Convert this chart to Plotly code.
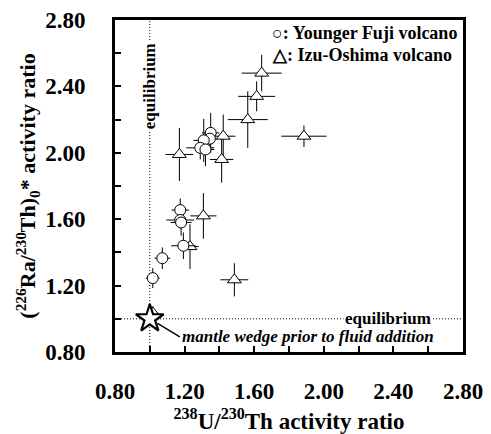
import plotly.graph_objects as go

# Younger Fuji volcano (circles)
fuji_x = [1.35, 1.345, 1.31, 1.29, 1.32, 1.175, 1.175, 1.18, 1.193, 1.072, 1.017]
fuji_y = [2.12, 2.085, 2.075, 2.03, 2.02, 1.655, 1.595, 1.58, 1.44, 1.365, 1.245]
fuji_xerr = [0.05, 0.04, 0.06, 0.08, 0.05, 0.05, 0.08, 0.06, 0.07, 0.045, 0.04]
fuji_yerr = [0.12, 0.06, 0.13, 0.07, 0.10, 0.07, 0.05, 0.08, 0.08, 0.065, 0.06]

# Izu-Oshima volcano (triangles)
izu_x = [1.643, 1.614, 1.563, 1.422, 1.413, 1.170, 1.886, 1.308, 1.231, 1.486, 1.018]
izu_y = [2.48, 2.34, 2.20, 2.10, 1.96, 1.99, 2.10, 1.62, 1.435, 1.235, 1.035]
izu_xerr = [0.115, 0.106, 0.115, 0.07, 0.067, 0.08, 0.13, 0.075, 0.05, 0.08, 0.03]
izu_yerr = [0.11, 0.09, 0.17, 0.13, 0.14, 0.16, 0.065, 0.137, 0.135, 0.10, 0.04]

# mantle wedge reference
mw_x = [1.0]
mw_y = [1.0]

tick_vals = [0.8, 1.2, 1.6, 2.0, 2.4, 2.8]
tick_text = ["0.80", "1.20", "1.60", "2.00", "2.40", "2.80"]

FONT = "Liberation Serif"

fig = go.Figure()

err_style = dict(type="data", color="black", thickness=1, width=0)

fig.add_trace(go.Scatter(
    x=izu_x, y=izu_y, mode="markers",
    error_x=dict(array=izu_xerr, **err_style),
    error_y=dict(array=izu_yerr, **err_style),
    marker=dict(symbol="triangle-up", size=12, color="white",
                line=dict(color="black", width=1)),
    showlegend=False))

fig.add_trace(go.Scatter(
    x=fuji_x, y=fuji_y, mode="markers",
    error_x=dict(array=fuji_xerr, **err_style),
    error_y=dict(array=fuji_yerr, **err_style),
    marker=dict(symbol="circle", size=11, color="white",
                line=dict(color="black", width=1)),
    showlegend=False))

fig.add_trace(go.Scatter(
    x=mw_x, y=mw_y, mode="markers",
    marker=dict(symbol="star", size=21, color="white",
                line=dict(color="black", width=2.2)),
    showlegend=False))

dotted = dict(color="black", width=1, dash="1px,2px")
fig.add_vline(x=1.0, line=dotted, layer="below")
fig.add_hline(y=1.0, line=dotted, layer="below")

bold = dict(family=FONT, color="black", weight="bold")

fig.add_annotation(x=2.37, y=1.0, text="equilibrium", showarrow=False,
                   bgcolor="white", font=dict(size=17, **bold), borderpad=1)
fig.add_annotation(x=1.0, y=2.40, text="equilibrium", showarrow=False,
                   textangle=-90, bgcolor="white", font=dict(size=17, **bold), borderpad=1)

fig.add_annotation(x=1.0, y=1.0, text="mantle wedge prior to fluid addition",
                   showarrow=True, arrowhead=0, arrowwidth=1.5, arrowcolor="black",
                   ax=30, ay=18, standoff=9, xanchor="left", yanchor="middle",
                   font=dict(size=17, style="italic", **bold))

fig.add_annotation(xref="paper", yref="paper", x=0.445, y=0.961,
                   text="○: Younger Fuji volcano", showarrow=False,
                   xanchor="left", yanchor="middle", font=dict(size=18, **bold))
fig.add_annotation(xref="paper", yref="paper", x=0.445, y=0.895,
                   text="△: Izu-Oshima volcano", showarrow=False,
                   xanchor="left", yanchor="middle", font=dict(size=18, **bold))

axis_common = dict(
    range=[0.8, 2.8], tickvals=tick_vals, ticktext=tick_text,
    ticks="inside", ticklen=6, tickwidth=2, tickcolor="black",
    minor=dict(ticks="inside", tick0=0.8, dtick=0.2, ticklen=6, tickwidth=2,
               tickcolor="black", showgrid=False),
    showline=True, linewidth=3, linecolor="black", mirror=True,
    showgrid=False, zeroline=False, automargin=False,
    tickfont=dict(size=23, **bold),
)

fig.update_xaxes(**axis_common, ticklabelstandoff=16,
                 title=dict(text="<sup>238</sup>U/<sup>230</sup>Th activity ratio",
                            font=dict(size=23, **bold), standoff=14))
fig.update_yaxes(**axis_common, ticklabelstandoff=22,
                 title=dict(text="(<sup>226</sup>Ra/<sup>230</sup>Th)<sub>0</sub>* activity ratio",
                            font=dict(size=22, **bold), standoff=4))

fig.update_layout(
    width=491, height=434,
    margin=dict(l=115, r=28, t=20, b=82),
    plot_bgcolor="white", paper_bgcolor="white",
    showlegend=False,
    font=dict(family=FONT),
)

fig.write_html("out.html")
